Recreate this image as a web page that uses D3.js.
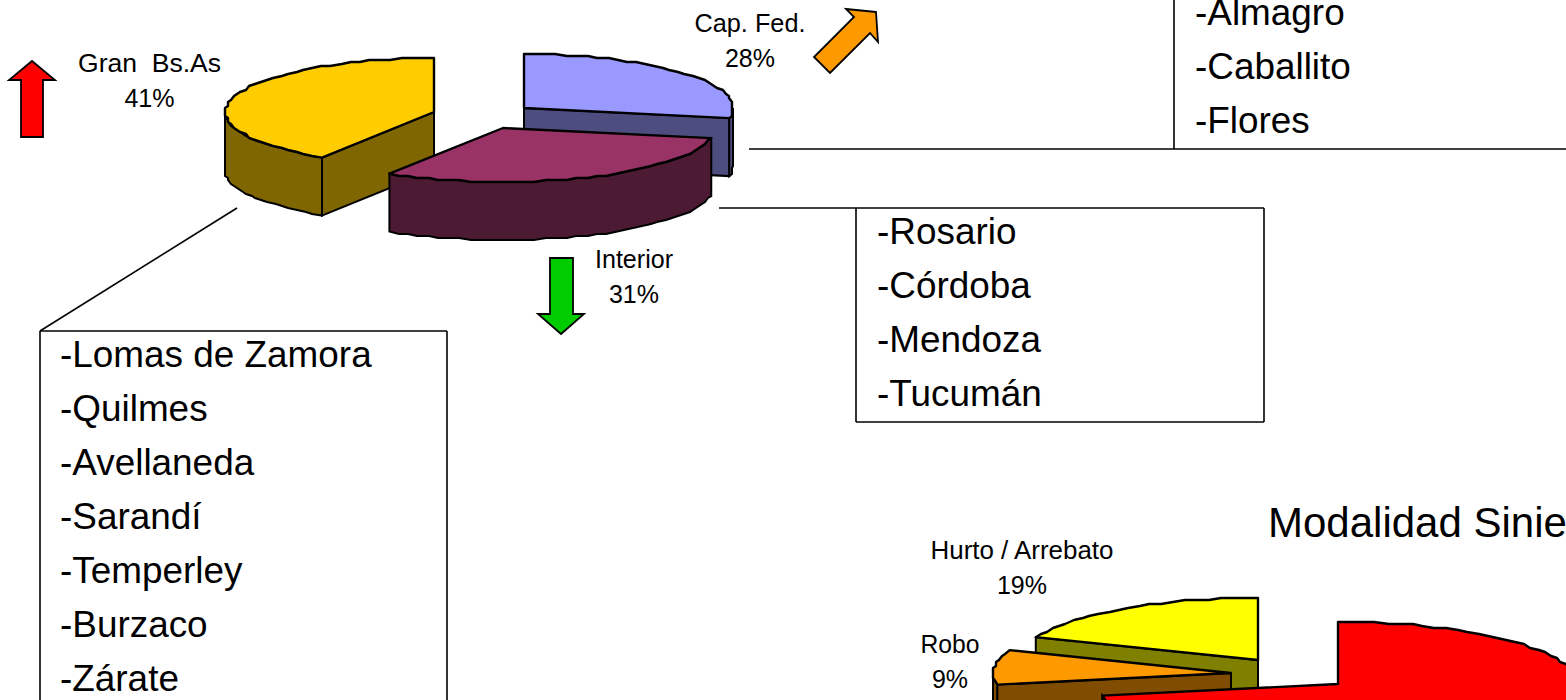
<!DOCTYPE html>
<html>
<head>
<meta charset="utf-8">
<title>Siniestros</title>
<script src="https://cdn.jsdelivr.net/npm/d3@7"></script>
<style>
html, body { margin: 0; padding: 0; background: #fff; overflow: hidden; }
svg { display: block; }
text { font-family: "Liberation Sans", Arial, sans-serif; fill: #000; }
</style>
</head>
<body>
<div id="chart"></div>
<script>
// DATA
const zoneNames = ["Cap. Fed.", "Interior", "Gran  Bs.As"];
const zoneShares = [28, 31, 41];
const modeNames = ["Otros", "Robo", "Hurto / Arrebato"];
const modeShares = [72, 9, 19];
const capFedList = ["-Almagro", "-Caballito", "-Flores"];
const interiorList = ["-Rosario", "-Córdoba", "-Mendoza", "-Tucumán"];
const granBsAsList = ["-Lomas de Zamora", "-Quilmes", "-Avellaneda", "-Sarandí", "-Temperley", "-Burzaco", "-Zárate"];

const width = 1566, height = 700;
const svg = d3.select("#chart").append("svg").attr("width", width).attr("height", height);

const pie = d3.pie().sort(null).value(d => d);
const lineGen = d3.line();

// one exploded wedge of a tilted pie, the arc is stepped like the old bitmap
function drawWedge(g, arc, o) {
    const start = arc.startAngle, end = arc.endAngle;
    const point = a => [o.cx + o.rx * Math.sin(a), o.cy - o.ry * Math.cos(a)];
    const arcPoints = (a0, a1) => {
        const n = Math.max(2, Math.ceil((a1 - a0) / (3 * Math.PI / 180)));
        return d3.range(n + 1).map(i => {
            const p = point(a0 + (a1 - a0) * i / n);
            if (i === 0 || i === n) return p;
            return [Math.round(p[0] / 3) * 3, Math.round(p[1] / 2) * 2];
        });
    };
    const apex = [o.cx, o.cy];
    const down = p => [p[0], p[1] + o.depth];

    // radial walls, only the ones facing the viewer
    if (Math.sin(start) < -0.01) radialWall(start);
    if (Math.sin(end) > 0.01) radialWall(end);
    function radialWall(a) {
        const p = point(a);
        g.append("path")
            .attr("d", lineGen([apex, p, down(p), down(apex)]) + "Z")
            .attr("fill", o.side).attr("stroke", "#000").attr("stroke-width", 2);
    }

    // outer wall, only the front half of the ellipse
    const w0 = Math.max(start, Math.PI / 2), w1 = Math.min(end, Math.PI * 1.5);
    if (w1 > w0) {
        const pts = arcPoints(w0, w1);
        g.append("path")
            .attr("d", lineGen(pts.concat(pts.slice().reverse().map(down))) + "Z")
            .attr("fill", o.side).attr("stroke", "#000").attr("stroke-width", 2);
    }

    g.append("path")
        .attr("d", lineGen([apex].concat(arcPoints(start, end))) + "Z")
        .attr("fill", o.top).attr("stroke", "#000").attr("stroke-width", 2.4)
        .attr("stroke-linejoin", "round");
}

// FIRST PIE
const zoneArcs = pie(zoneShares);
const zoneStyle = [
    {cx: 524, cy: 108, rx: 209, ry: 54, depth: 58, top: "#9999ff", side: "#4d4d80"},
    {cx: 503, cy: 128, rx: 212, ry: 54, depth: 58, top: "#993366", side: "#4d1a33"},
    {cx: 434, cy: 112, rx: 209, ry: 54, depth: 58, top: "#ffcc00", side: "#806600"}
];
// painter order: back wedge, left wedge, then the front one
[0, 2, 1].forEach(i => drawWedge(svg.append("g").attr("class", "zone"), zoneArcs[i], zoneStyle[i]));

// SECOND PIE, cut by the bottom of the page
const modeArcs = pie(modeShares);
const modeStyle = [
    {cx: 1338, cy: 684, rx: 240, ry: 62, depth: 60, top: "#ff0000", side: "#800000"},
    {cx: 1231, cy: 673, rx: 238, ry: 62, depth: 60, top: "#ff9900", side: "#804d00"},
    {cx: 1258, cy: 660, rx: 239, ry: 62, depth: 60, top: "#ffff00", side: "#808000"}
];
[2, 1, 0].forEach(i => drawWedge(svg.append("g").attr("class", "mode"), modeArcs[i], modeStyle[i]));

// SLICE LABELS, the names are a bit stretched in the original
function sliceLabel(name, value, x, y, nameWidth) {
    const t = svg.append("text").attr("text-anchor", "middle").style("font-size", "25px").style("white-space", "pre");
    t.append("tspan").attr("x", x).attr("y", y)
        .attr("textLength", nameWidth).attr("lengthAdjust", "spacingAndGlyphs").text(name);
    t.append("tspan").attr("x", x).attr("y", y + 35).text(value + "%");
}
sliceLabel(zoneNames[0], zoneShares[0], 750, 32, 111);
sliceLabel(zoneNames[1], zoneShares[1], 634, 268, 78);
sliceLabel(zoneNames[2], zoneShares[2], 149.5, 72, 143);
sliceLabel(modeNames[1], modeShares[1], 950, 653, 59);
sliceLabel(modeNames[2], modeShares[2], 1022, 559, 183);

svg.append("text").attr("x", 1268).attr("y", 537).style("font-size", "42px").text("Modalidad Siniestros");

// ARROWS
function arrow(points, fill) {
    svg.append("path")
        .attr("d", lineGen(points) + "Z")
        .attr("fill", fill).attr("stroke", "#000").attr("stroke-width", 1.8);
}
arrow([[32, 61], [55, 80], [43, 80], [43, 137], [21, 137], [21, 80], [9, 80]], "#ff0000");
arrow([[550, 258], [573, 258], [573, 314], [584, 314], [561, 334], [538, 314], [550, 314]], "#00cc00");
arrow([[876, 12], [846, 9], [854, 17], [814, 57], [830, 73], [870, 33], [878, 42]], "#ff9900");

// CITY BOXES
function cityBox(lines, x, firstBaseline) {
    lines.forEach((name, i) => {
        svg.append("text").attr("x", x).attr("y", firstBaseline + i * 54)
            .style("font-size", "36.9px").text(name);
    });
}
function rule(x1, y1, x2, y2) {
    svg.append("line").attr("x1", x1).attr("y1", y1).attr("x2", x2).attr("y2", y2)
        .attr("stroke", "#000").attr("stroke-width", 1.6);
}
rule(749, 149, 1566, 149);
rule(1174, 0, 1174, 149);
cityBox(capFedList, 1195, 25);

rule(719, 208, 1264, 208);
rule(856, 208, 856, 422);
rule(1264, 208, 1264, 422);
rule(856, 422, 1264, 422);
cityBox(interiorList, 877, 244);

rule(237, 208, 40, 331);
rule(40, 331, 447, 331);
rule(40, 331, 40, 700);
rule(447, 331, 447, 700);
cityBox(granBsAsList, 60, 367);
</script>
</body>
</html>
